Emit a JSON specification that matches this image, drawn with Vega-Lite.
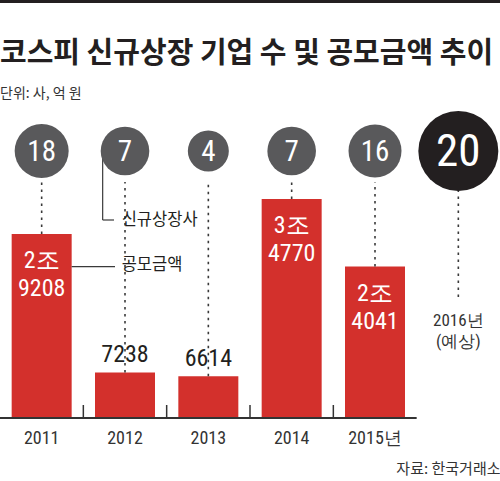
{
  "$schema": "https://vega.github.io/schema/vega-lite/v6.json",
  "description": "코스피 신규상장 기업 수 및 공모금액 추이",
  "width": 500,
  "height": 418,
  "autosize": "none",
  "padding": {"left": 0, "top": 0, "right": 0, "bottom": 63},
  "title": {
    "text": "코스피 신규상장 기업 수 및 공모금액 추이",
    "subtitle": "단위: 사, 억 원",
    "anchor": "start",
    "frame": "group",
    "offset": -101,
    "font": "Noto Sans CJK KR",
    "fontSize": 29,
    "fontWeight": "bold",
    "color": "#231f20",
    "subtitleFont": "Noto Sans CJK KR",
    "subtitleFontSize": 14,
    "subtitleColor": "#333333",
    "subtitlePadding": 18
  },
  "datasets": {
    "years": [
      {"year": "2011", "count": 18, "amount": 29208, "label": "2조\n9208", "status": "실적"},
      {"year": "2012", "count": 7, "amount": 7238, "label": "7238", "status": "실적"},
      {"year": "2013", "count": 4, "amount": 6614, "label": "6614", "status": "실적"},
      {"year": "2014", "count": 7, "amount": 34770, "label": "3조\n4770", "status": "실적"},
      {"year": "2015", "count": 16, "amount": 24041, "label": "2조\n4041", "status": "실적"},
      {"year": "2016", "count": 20, "amount": null, "label": "2016년\n(예상)", "status": "예상"}
    ],
    "notes": [
      {"note": "신규상장사"},
      {"note": "공모금액"}
    ]
  },
  "data": {"name": "years"},
  "layer": [
    {
      "transform": [{"filter": "datum.year == '2011'"}],
      "mark": {"type": "rule", "color": "#231f20", "strokeWidth": 3},
      "encoding": {
        "y": {"datum": 66100, "type": "quantitative", "axis": null}
      }
    },
    {
      "mark": {"type": "bar", "color": "#d3302c", "width": {"band": 0.72}},
      "encoding": {
        "x": {
          "field": "year",
          "type": "nominal",
          "scale": {"domain": ["2011", "2012", "2013", "2014", "2015", "2016"], "paddingInner": 0, "paddingOuter": 0},
          "axis": {
            "values": ["2011", "2012", "2013", "2014", "2015"],
            "labelExpr": "datum.value == '2015' ? '2015년' : datum.value",
            "domain": false,
            "ticks": false,
            "labelAngle": 0,
            "labelFont": "Roboto Condensed, Roboto",
            "labelFontSize": 18,
            "labelColor": "#333333",
            "labelPadding": 11,
            "title": "자료: 한국거래소",
            "titleAnchor": "end",
            "titleAlign": "right",
            "titleFont": "Noto Sans CJK KR",
            "titleFontSize": 15,
            "titleFontWeight": "normal",
            "titleColor": "#333333",
            "titlePadding": 14
          }
        },
        "y": {
          "field": "amount",
          "type": "quantitative",
          "scale": {"domain": [0, 66350], "nice": false, "zero": true},
          "axis": null
        }
      }
    },
    {
      "transform": [{"filter": "datum.amount != null"}],
      "mark": {"type": "rule", "color": "#3a3a3a", "strokeWidth": 1.6, "strokeDash": [2.5, 4.5]},
      "encoding": {
        "x": {"field": "year", "type": "nominal"},
        "y": {"field": "amount", "type": "quantitative", "axis": null},
        "y2": {"datum": 37460}
      }
    },
    {
      "transform": [{"filter": "datum.year == '2016'"}],
      "mark": {"type": "rule", "color": "#3a3a3a", "strokeWidth": 1.6, "strokeDash": [2.5, 4.5]},
      "encoding": {
        "x": {"field": "year", "type": "nominal"},
        "y": {"datum": 19206, "type": "quantitative", "axis": null},
        "y2": {"datum": 37460}
      }
    },
    {
      "data": {"name": "notes"},
      "transform": [{"filter": "datum.note == '신규상장사'"}],
      "mark": {"type": "rule", "color": "#3a3a3a", "strokeWidth": 1.2},
      "encoding": {
        "x": {"datum": "2012", "type": "nominal", "bandPosition": 0.232},
        "y": {"datum": 41270, "type": "quantitative", "axis": null},
        "y2": {"datum": 31429}
      }
    },
    {
      "data": {"name": "notes"},
      "transform": [{"filter": "datum.note == '신규상장사'"}],
      "mark": {"type": "rule", "color": "#3a3a3a", "strokeWidth": 1.2},
      "encoding": {
        "x": {"datum": "2012", "type": "nominal", "bandPosition": 0.232},
        "x2": {"datum": "2012", "bandPosition": 0.368},
        "y": {"datum": 31429, "type": "quantitative", "axis": null}
      }
    },
    {
      "data": {"name": "notes"},
      "transform": [{"filter": "datum.note == '공모금액'"}],
      "mark": {"type": "rule", "color": "#3a3a3a", "strokeWidth": 1.2},
      "encoding": {
        "x": {"datum": "2011", "type": "nominal", "bandPosition": 0.86},
        "x2": {"datum": "2012", "bandPosition": 0.38},
        "y": {"datum": 24016, "type": "quantitative", "axis": null}
      }
    },
    {
      "mark": {"type": "circle", "opacity": 1},
      "encoding": {
        "x": {"field": "year", "type": "nominal"},
        "y": {"datum": 42380, "type": "quantitative", "axis": null},
        "size": {
          "field": "count",
          "type": "quantitative",
          "scale": {"type": "threshold", "domain": [5, 10, 17, 19], "range": [1681, 2362, 2809, 2916, 6400]},
          "legend": null
        },
        "color": {
          "field": "status",
          "type": "nominal",
          "scale": {"domain": ["실적", "예상"], "range": ["#59595b", "#231f20"]},
          "legend": null
        }
      }
    },
    {
      "mark": {"type": "text", "color": "white", "font": "Roboto Condensed, Roboto", "baseline": "middle", "dy": 1},
      "encoding": {
        "x": {"field": "year", "type": "nominal"},
        "y": {"datum": 42380, "type": "quantitative", "axis": null},
        "text": {"field": "count", "type": "quantitative"},
        "size": {
          "field": "status",
          "type": "nominal",
          "scale": {"domain": ["실적", "예상"], "range": [29, 45]},
          "legend": null
        }
      }
    },
    {
      "transform": [{"filter": "datum.amount >= 10000"}],
      "mark": {"type": "text", "color": "white", "font": "Roboto Condensed, Roboto", "fontSize": 24, "lineHeight": 28, "lineBreak": "\n", "baseline": "top", "dy": 15},
      "encoding": {
        "x": {"field": "year", "type": "nominal"},
        "y": {"field": "amount", "type": "quantitative", "axis": null},
        "text": {"field": "label", "type": "nominal"}
      }
    },
    {
      "transform": [{"filter": "datum.amount != null && datum.amount < 10000"}],
      "mark": {"type": "text", "color": "#231f20", "font": "Roboto Condensed, Roboto", "fontSize": 24, "baseline": "bottom", "dy": -5},
      "encoding": {
        "x": {"field": "year", "type": "nominal"},
        "y": {"field": "amount", "type": "quantitative", "axis": null},
        "text": {"field": "label", "type": "nominal"}
      }
    },
    {
      "transform": [{"filter": "datum.year == '2016'"}],
      "mark": {"type": "text", "color": "#333333", "font": "Roboto Condensed, Roboto", "fontSize": 17, "lineHeight": 21, "lineBreak": "\n", "baseline": "top"},
      "encoding": {
        "x": {"field": "year", "type": "nominal"},
        "y": {"datum": 16667, "type": "quantitative", "axis": null},
        "text": {"field": "label", "type": "nominal"}
      }
    },
    {
      "transform": [{"filter": "datum.year != '2011' && datum.year != '2016'"}],
      "mark": {"type": "rule", "color": "#333333", "strokeWidth": 1.5},
      "encoding": {
        "x": {"field": "year", "type": "nominal", "bandPosition": 0},
        "y": {"datum": 0, "type": "quantitative", "axis": null},
        "y2": {"datum": 2063}
      }
    },
    {
      "transform": [{"filter": "datum.year == '2011'"}],
      "mark": {"type": "rule", "color": "#333333", "strokeWidth": 2},
      "encoding": {
        "x": {"datum": "2011", "type": "nominal", "bandPosition": 0},
        "x2": {"datum": "2016", "bandPosition": 0},
        "y": {"datum": 0, "type": "quantitative", "axis": null}
      }
    },
    {
      "data": {"name": "notes"},
      "transform": [{"filter": "datum.note == '신규상장사'"}],
      "mark": {"type": "text", "color": "#231f20", "font": "Noto Sans CJK KR", "fontSize": 16.5, "align": "left", "baseline": "middle"},
      "encoding": {
        "x": {"datum": "2012", "type": "nominal", "bandPosition": 0.46},
        "y": {"datum": 31429, "type": "quantitative", "axis": null},
        "text": {"field": "note", "type": "nominal"}
      }
    },
    {
      "data": {"name": "notes"},
      "transform": [{"filter": "datum.note == '공모금액'"}],
      "mark": {"type": "text", "color": "#231f20", "font": "Noto Sans CJK KR", "fontSize": 16.5, "align": "left", "baseline": "middle"},
      "encoding": {
        "x": {"datum": "2012", "type": "nominal", "bandPosition": 0.46},
        "y": {"datum": 24286, "type": "quantitative", "axis": null},
        "text": {"field": "note", "type": "nominal"}
      }
    }
  ],
  "resolve": {"scale": {"size": "independent", "color": "independent"}},
  "config": {
    "view": {"stroke": null},
    "text": {"font": "Noto Sans CJK KR"}
  }
}
